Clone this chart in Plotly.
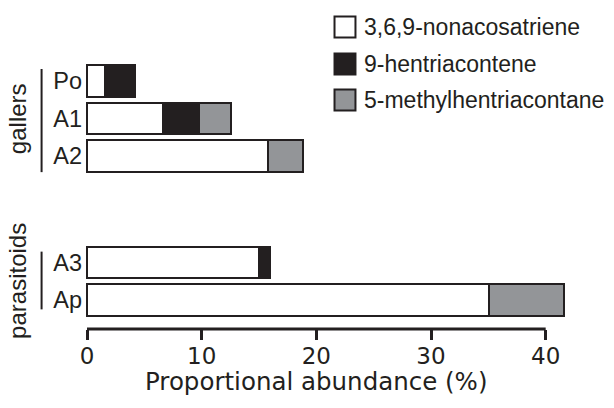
import plotly.graph_objects as go

# ---- data ----
categories = ["Po", "A1", "A2", "A3", "Ap"]
groups = ["gallers", "gallers", "gallers", "parasitoids", "parasitoids"]
series_names = ["3,6,9-nonacosatriene", "9-hentriacontene", "5-methylhentriacontane"]
nonacosatriene = [1.6, 6.65, 15.75, 15.0, 35.05]
hentriacontene = [2.6, 3.1, None, 1.0, None]
methylhentriacontane = [None, 2.8, 3.1, None, 6.55]
x_ticks = [0, 10, 20, 30, 40]
x_title = "Proportional abundance (%)"

# ---- styling ----
INK = "#231f20"
fills = ["#ffffff", "#231f20", "#939598"]
series = [nonacosatriene, hentriacontene, methylhentriacontane]
SANS = "Liberation Sans"
DEJA = "DejaVu Sans"

# category slot positions: gap between groups
ypos = []
cur = 0.0
for i, g in enumerate(groups):
    if i > 0:
        cur += 1.0 if g == groups[i - 1] else 2.84
    ypos.append(cur)

fig = go.Figure()
for name, vals, col in zip(series_names, series, fills):
    fig.add_trace(go.Bar(
        y=ypos, x=vals, orientation="h", name=name, width=0.83,
        marker=dict(color=col, line=dict(color=INK, width=2)),
        showlegend=False, hoverinfo="x+name",
    ))

L, R, T, B = 82.5, 14.5, 10, 79
W, H = 614, 408
pw, ph = W - L - R, H - T - B

def px2paper_x(px):
    return (px - L) / pw

def px2paper_y(py):
    return (H - B - py) / ph

shapes = []
annotations = []
# bottom axis spine from first to last tick
shapes.append(dict(type="line", xref="x", yref="paper", x0=x_ticks[0], x1=x_ticks[-1],
                   y0=0, y1=0, line=dict(color=INK, width=3)))

# axis title centred on the spine
annotations.append(dict(text=x_title, xref="x", yref="paper",
                        x=(x_ticks[0] + x_ticks[-1]) / 2, y=px2paper_y(381),
                        xanchor="center", yanchor="middle", showarrow=False,
                        font=dict(family=DEJA, size=24.5, color=INK)))

# group brackets and labels
for gname, ext in [("gallers", (-0.32, 0.43)), ("parasitoids", (-0.29, 0.25))]:
    idx = [i for i, g in enumerate(groups) if g == gname]
    y0, y1 = ypos[idx[0]] + ext[0], ypos[idx[-1]] + ext[1]
    shapes.append(dict(type="line", xref="paper", yref="y", x0=px2paper_x(41), x1=px2paper_x(41),
                       y0=y0, y1=y1, line=dict(color=INK, width=2)))
    annotations.append(dict(text=gname, xref="paper", yref="y", x=px2paper_x(17),
                            y=(ypos[idx[0]] + ypos[idx[-1]]) / 2, textangle=-90, showarrow=False,
                            xanchor="center", yanchor="middle",
                            font=dict(family=SANS, size=24, color=INK)))

# manual legend
leg_rows = [27, 64, 100]
for name, col, cy in zip(series_names, fills, leg_rows):
    shapes.append(dict(type="rect", xref="paper", yref="paper",
                       x0=px2paper_x(334.5), x1=px2paper_x(355.5),
                       y0=px2paper_y(cy + 10.5), y1=px2paper_y(cy - 10.5),
                       fillcolor=col, line=dict(color=INK, width=2)))
    annotations.append(dict(text=name, xref="paper", yref="paper", x=px2paper_x(362),
                            y=px2paper_y(cy), xanchor="left", yanchor="middle", showarrow=False,
                            font=dict(family=SANS, size=23, color=INK)))

y_top = (T - 81) / 37.5
y_bot = (H - B - 81) / 37.5

fig.update_layout(
    width=W, height=H,
    margin=dict(l=L, r=R, t=T, b=B, pad=0),
    paper_bgcolor="white", plot_bgcolor="white",
    barmode="stack", bargap=0,
    shapes=shapes, annotations=annotations,
    xaxis=dict(range=[-0.35, 44.65], tickvals=x_ticks, ticks="outside", ticklen=10,
               tickwidth=2.5, tickcolor=INK, showline=False, showgrid=False, zeroline=False,
               ticklabelstandoff=-4,
               tickfont=dict(family=DEJA, size=23, color=INK)),
    yaxis=dict(range=[y_bot, y_top], tickvals=ypos, ticktext=categories, showgrid=False,
               zeroline=False, showline=False, ticks="",
               tickfont=dict(family=SANS, size=23.5, color=INK)),
)

fig.write_html("out.html", config={"displayModeBar": False},
               post_script="document.body.style.margin='0';document.body.style.overflow='hidden';")
